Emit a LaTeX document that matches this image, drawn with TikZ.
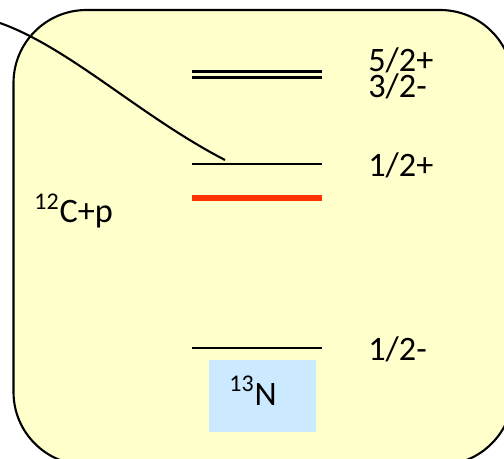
\documentclass[tikz,border=0pt]{standalone}
\usepackage{fontspec}
\setmainfont{Carlito}
\definecolor{boxyellow}{HTML}{FFFFCC}
\definecolor{boxblue}{HTML}{CCEAFF}
\definecolor{levelred}{HTML}{FF3300}
\tikzset{
  level/.style={line width=1.2pt},
  spin/.style={anchor=base west, inner sep=0pt, font=\fontsize{19.5}{20}\selectfont},
}
\begin{document}
\begin{tikzpicture}[x=0.02cm, y=-0.02cm]
        \useasboundingbox (0,0) rectangle (504,459);
        \clip (0,0) rectangle (504,459);
        % Frame
        \draw[line width=1.2pt, fill=boxyellow, rounded corners=1.46cm] (13.5,10) rectangle (513,465);
        % Level ends (top to bottom)
        \coordinate (a1) at (192,71.5);  \coordinate (b1) at (322,71.5);
        \coordinate (a2) at (192,77.5);  \coordinate (b2) at (322,77.5);
        \coordinate (a3) at (192,164);   \coordinate (b3) at (322,164);
        \coordinate (a4) at (192,198);   \coordinate (b4) at (322,198);
        \coordinate (a5) at (192,348);   \coordinate (b5) at (322,348);
        % Nodes
        \node (jp52) at (368,72) [spin] {5/2+};
        \node (jp32) at (368,98) [spin] {3/2-};
        \node (jp12p) at (368,177) [spin] {1/2+};
        \node (jp12m) at (368,360) [spin] {1/2-};
        \node (cp) at (34,223) [spin] {\textsuperscript{12}C+p};
        \node (n13box) at (262.5,396) [fill=boxblue, minimum width=2.14cm, minimum height=1.44cm, inner sep=0pt] {};
        \node (n13) at (229,405) [spin] {\textsuperscript{13}N};
        % Levels
        \draw[level] (a1) -- (b1);
        \draw[level] (a2) -- (b2);
        \draw[level] (a3) -- (b3);
        \draw[levelred, line width=3.2pt] (a4) -- (b4);
        \draw[level] (a5) -- (b5);
        % Potential
        \coordinate (pot0) at (0,23);
        \coordinate (pot1) at (225,160);
        \draw[line width=1.2pt] (pot0) .. controls (70,48) and (140,116) .. (pot1);
      \end{tikzpicture}
\end{document}
